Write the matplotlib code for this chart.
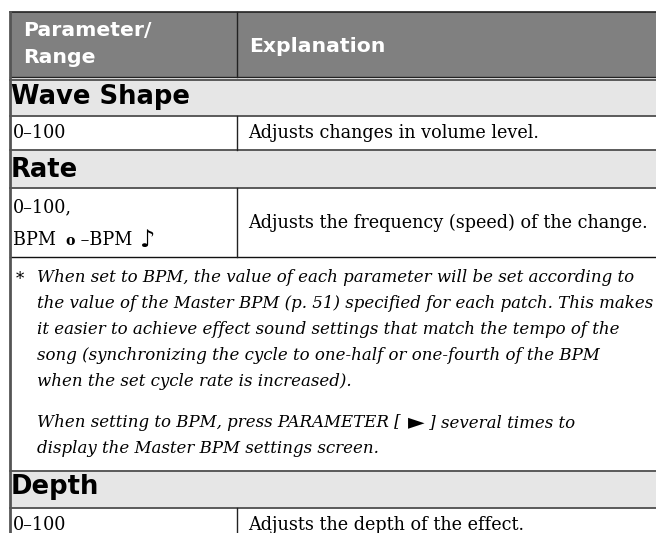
import matplotlib
matplotlib.use("Agg")
import matplotlib.pyplot as plt
from matplotlib.patches import Rectangle

# ---------------- data ----------------
header_cols = ["Parameter/\nRange", "Explanation"]
sections = ["Wave Shape", "Rate", "Depth"]
ranges = ["0–100", "0–100,", "0–100"]
rate_bpm_parts = ["BPM ", "o", " –BPM ", "♪"]
explanations = [
    "Adjusts changes in volume level.",
    "Adjusts the frequency (speed) of the change.",
    "Adjusts the depth of the effect.",
]
note_para1 = [
    "When set to BPM, the value of each parameter will be set according to",
    "the value of the Master BPM (p. 51) specified for each patch. This makes",
    "it easier to achieve effect sound settings that match the tempo of the",
    "song (synchronizing the cycle to one-half or one-fourth of the BPM",
    "when the set cycle rate is increased).",
]
note_para2_line1 = ["When setting to BPM, press PARAMETER [ ", "►", " ] several times to"]
note_para2_line2 = "display the Master BPM settings screen."

# ---------------- layout (pixels, y down) ----------------
W, H = 656, 533
X0, XC, X1 = 10, 237, 700
HEAD_TOP, HEAD_BOT, HEAD_LINE2 = 12, 76.5, 79.5
ROW_EDGES = [79.5, 116, 150, 188, 257, 470.5, 508, 560]

HEAD_BG = "#808080"
SEC_BG = "#e6e6e6"
GRID_GRAY = "#5a5a5a"

fig = plt.figure(figsize=(W / 100, H / 100), dpi=100)
ax = fig.add_axes([0, 0, 1, 1])
ax.set_xlim(0, W)
ax.set_ylim(H, 0)
ax.axis("off")
renderer = fig.canvas.get_renderer()

SANS_B = dict(family="DejaVu Sans", weight="bold")
SERIF = dict(family="DejaVu Serif")
SERIF_I = dict(family="DejaVu Serif", style="italic")


def width_of(s, size, **kw):
    t = ax.text(0, 0, s, fontsize=size, **kw)
    w = t.get_window_extent(renderer).width
    t.remove()
    return w


def fit(s, target, **kw):
    return 10 * target / width_of(s, 10, **kw)


fs_head = fit("Explanation", 136, **SANS_B)
fs_sec = fit("Wave Shape", 180, **SANS_B)
fs_body = (fit(explanations[0], 304, **SERIF) * fit(explanations[1], 389, **SERIF)) ** 0.5
fs_ital = fit(note_para1[0], 598, **SERIF_I)

# ---------------- backgrounds ----------------
ax.add_patch(Rectangle((X0, HEAD_TOP), X1 - X0, HEAD_BOT - HEAD_TOP, color=HEAD_BG, lw=0))
sec_rows = [0, 2, 5]
for i in sec_rows:
    ax.add_patch(Rectangle((X0, ROW_EDGES[i]), X1 - X0, ROW_EDGES[i + 1] - ROW_EDGES[i],
                           color=SEC_BG, lw=0))

# ---------------- lines ----------------
ax.plot([X0, X1], [HEAD_TOP, HEAD_TOP], color="#222222", lw=1.2)
ax.plot([X0, X1], [HEAD_BOT, HEAD_BOT], color="#222222", lw=1.0)
for k, y in enumerate(ROW_EDGES[:-1]):
    col = "#111111" if k == 4 else GRID_GRAY
    lw = 1.0 if k == 4 else 1.4
    ax.plot([X0, X1], [y, y], color=col, lw=lw)
# column divider
ax.plot([XC, XC], [HEAD_TOP, HEAD_BOT], color="#222222", lw=1.0)
for i in [1, 3, 6]:
    ax.plot([XC, XC], [ROW_EDGES[i], ROW_EDGES[i + 1]], color="#222222", lw=1.0)
# left border
ax.plot([X0, X0], [HEAD_TOP, H + 5], color="#555555", lw=2.0)

# ---------------- header text ----------------
hl = header_cols[0].split("\n")
ax.text(23, 36, hl[0], color="white", fontsize=fs_head, va="baseline", **SANS_B)
ax.text(23, 63, hl[1], color="white", fontsize=fs_head, va="baseline", **SANS_B)
ax.text(249, 52, header_cols[1], color="white", fontsize=fs_head, va="baseline", **SANS_B)

# ---------------- sections ----------------
sec_base = [104, 177, 494]
for name, yb in zip(sections, sec_base):
    ax.text(11, yb, name, fontsize=fs_sec, va="baseline", color="black", **SANS_B)

# ---------------- value rows ----------------
val_base = [138, 212, 530]
exp_base = [138, 228, 530]
for r, yb in zip(ranges, val_base):
    ax.text(13, yb, r, fontsize=fs_body, va="baseline", **SERIF)
for e, yb in zip(explanations, exp_base):
    ax.text(248, yb, e, fontsize=fs_body, va="baseline", **SERIF)

# BPM line with note glyphs
x = 13
yb = 245
for part in rate_bpm_parts:
    if part == "o":
        ax.text(x + 4, yb, part, fontsize=fs_body * 0.8, va="baseline",
                family="DejaVu Serif", weight="bold")
        x += width_of(part, fs_body * 0.8, family="DejaVu Serif", weight="bold") + 4
    elif part == "♪":
        ax.text(x + 2, yb + 2, part, fontsize=fs_body * 1.35, va="baseline", family="DejaVu Sans")
        x += width_of(part, fs_body * 1.35, family="DejaVu Sans")
    else:
        ax.text(x, yb, part, fontsize=fs_body, va="baseline", **SERIF)
        x += width_of(part, fs_body, **SERIF)

# ---------------- note ----------------
ax.text(16, 284, "*", fontsize=fs_ital, va="baseline", **SERIF)
note_base1 = [282, 308, 334, 360, 386]
for line, yb in zip(note_para1, note_base1):
    ax.text(37, yb, line, fontsize=fs_ital, va="baseline", **SERIF_I)

x = 37
yb = 427
for part in note_para2_line1:
    if part == "►":
        ax.text(x + 2, yb + 1, part, fontsize=fs_ital * 1.3, va="baseline", family="DejaVu Sans")
        x += width_of(part, fs_ital * 1.3, family="DejaVu Sans") + 2
    else:
        ax.text(x, yb, part, fontsize=fs_ital, va="baseline", **SERIF_I)
        x += width_of(part, fs_ital, **SERIF_I)
ax.text(37, 453, note_para2_line2, fontsize=fs_ital, va="baseline", **SERIF_I)

fig.savefig("out.png", dpi=100)
